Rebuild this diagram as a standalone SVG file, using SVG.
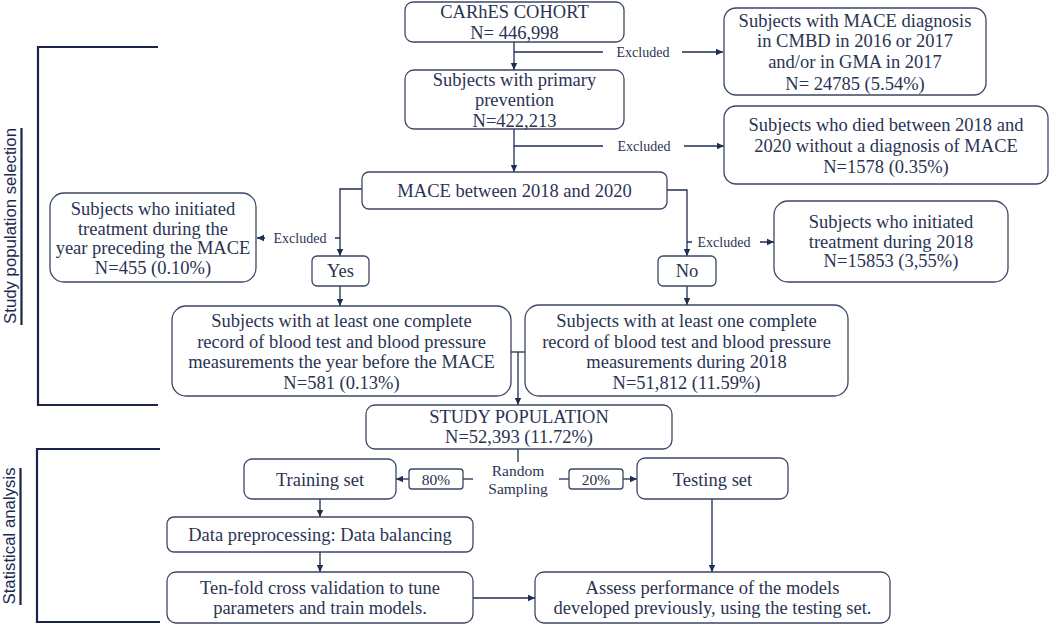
<svg xmlns="http://www.w3.org/2000/svg" width="1052" height="626" viewBox="0 0 1052 626">
<defs>
<marker id="ah" markerUnits="userSpaceOnUse" markerWidth="8" markerHeight="8" refX="7" refY="4" orient="auto">
<path d="M0,0.8 L7,4 L0,7.2 z" fill="#1f2d52"/>
</marker>
<style>
.box{fill:#fff;stroke:#3b4766;stroke-width:1.3}
.t{font-family:"Liberation Serif","Times New Roman",serif;font-size:18.5px;fill:#2a3352;text-anchor:middle}
.s{font-family:"Liberation Serif","Times New Roman",serif;font-size:14px;fill:#2a3352;text-anchor:middle}
.r{font-family:"Liberation Serif","Times New Roman",serif;font-size:15.5px;fill:#2a3352;text-anchor:middle}
.ln{fill:none;stroke:#1f2d52;stroke-width:1.3}
.br{fill:none;stroke:#1a2447;stroke-width:2.2}
.side{font-family:"Liberation Sans",Arial,sans-serif;font-size:16.8px;fill:#1e2a4d;text-anchor:middle}
.lbg{fill:#fff}
</style>
</defs>
<rect width="1052" height="626" fill="#fff"/>

<g id="bracket-selection">
<path class="br" d="M158,47 H38 V405 H158"/>
<line class="br" x1="21.5" y1="128" x2="21.5" y2="325" stroke-width="1.6"/>
<text class="side" transform="translate(16,226) rotate(-90)">Study population selection</text>
</g>
<g id="bracket-analysis">
<path class="br" d="M160,449 H37 V622 H160"/>
<line class="br" x1="20.5" y1="468" x2="20.5" y2="605" stroke-width="1.6"/>
<text class="side" transform="translate(15,536) rotate(-90)">Statistical analysis</text>
</g>

<g id="connectors">
<path class="ln" d="M514,42 V70" marker-end="url(#ah)"/>
<path class="ln" d="M514,52 H723" marker-end="url(#ah)"/>
<path class="ln" d="M514,129 V172" marker-end="url(#ah)"/>
<path class="ln" d="M514,146 H724" marker-end="url(#ah)"/>
<path class="ln" d="M362,189 H340 V256" marker-end="url(#ah)"/>
<path class="ln" d="M667,190 H687 V256" marker-end="url(#ah)"/>
<path class="ln" d="M340,238 H257" marker-end="url(#ah)"/>
<path class="ln" d="M687,242 H774" marker-end="url(#ah)"/>
<path class="ln" d="M340,286 V306" marker-end="url(#ah)"/>
<path class="ln" d="M687,286 V305" marker-end="url(#ah)"/>
<path class="ln" d="M511,352 H525"/>
<path class="ln" d="M518,352 V405" marker-end="url(#ah)"/>
<path class="ln" d="M518,449 V462"/>
<path class="ln" d="M473,479 H463"/>
<path class="ln" d="M409,479 H396" marker-end="url(#ah)"/>
<path class="ln" d="M559,479 H569"/>
<path class="ln" d="M623,479 H637" marker-end="url(#ah)"/>
<path class="ln" d="M320,499 V517" marker-end="url(#ah)"/>
<path class="ln" d="M320,552 V572" marker-end="url(#ah)"/>
<path class="ln" d="M712,499 V572" marker-end="url(#ah)"/>
<path class="ln" d="M473,598 H535" marker-end="url(#ah)"/>
<rect class="lbg" x="603" y="44" width="79" height="16"/>
<text class="s" x="643" y="57">Excluded</text>
<rect class="lbg" x="603" y="138" width="81" height="16"/>
<text class="s" x="644" y="151">Excluded</text>
<rect class="lbg" x="265" y="230" width="70" height="16"/>
<text class="s" x="300" y="243">Excluded</text>
<rect class="lbg" x="692" y="234" width="68" height="16"/>
<text class="s" x="724" y="247">Excluded</text>
<text class="r" x="518" y="476">Random</text>
<text class="r" x="518" y="494">Sampling</text>
<rect class="box" x="409" y="469" width="54" height="20" rx="3"/>
<text class="r" x="436" y="485">80%</text>
<rect class="box" x="569" y="469" width="54" height="20" rx="3"/>
<text class="r" x="596" y="485">20%</text>
</g>

<g id="n-cohort">
<rect class="box" x="405" y="2" width="219" height="40" rx="8"/>
<text class="t" x="514.5" y="18">CARhES COHORT</text>
<text class="t" x="514.5" y="39">N= 446,998</text>
</g>
<g id="n-mace-diag">
<rect class="box" x="724" y="8" width="262" height="87" rx="12"/>
<text class="t" x="855" y="27">Subjects with MACE diagnosis</text>
<text class="t" x="855" y="47">in CMBD in 2016 or 2017</text>
<text class="t" x="855" y="68">and/or in GMA in 2017</text>
<text class="t" x="855" y="90">N= 24785 (5.54%)</text>
</g>
<g id="n-primary">
<rect class="box" x="405" y="70" width="219" height="59" rx="9"/>
<text class="t" x="514.5" y="86">Subjects with primary</text>
<text class="t" x="514.5" y="106">prevention</text>
<text class="t" x="514.5" y="127">N=422,213</text>
</g>
<g id="n-died">
<rect class="box" x="724" y="106" width="324" height="78" rx="12"/>
<text class="t" x="886" y="131">Subjects who died between 2018 and</text>
<text class="t" x="886" y="152">2020 without a diagnosis of MACE</text>
<text class="t" x="886" y="173">N=1578 (0.35%)</text>
</g>
<g id="n-mace">
<rect class="box" x="362" y="172" width="305" height="37" rx="7"/>
<text class="t" x="514.5" y="197">MACE between 2018 and 2020</text>
</g>
<g id="n-init-prev">
<rect class="box" x="50" y="193" width="206" height="89" rx="14"/>
<text class="t" x="153" y="215">Subjects who initiated</text>
<text class="t" x="153" y="235">treatment during the</text>
<text class="t" x="153" y="254">year preceding the MACE</text>
<text class="t" x="153" y="274">N=455 (0.10%)</text>
</g>
<g id="n-init-2018">
<rect class="box" x="774" y="201" width="234" height="81" rx="14"/>
<text class="t" x="891" y="228">Subjects who initiated</text>
<text class="t" x="891" y="248">treatment during 2018</text>
<text class="t" x="891" y="267">N=15853 (3,55%)</text>
</g>
<g id="n-yes">
<rect class="box" x="312" y="256" width="57" height="30" rx="5"/>
<text class="t" x="340.5" y="277">Yes</text>
</g>
<g id="n-no">
<rect class="box" x="658" y="256" width="58" height="30" rx="5"/>
<text class="t" x="687" y="277">No</text>
</g>
<g id="n-record-mace">
<rect class="box" x="172" y="306" width="339" height="90" rx="14"/>
<text class="t" x="341.5" y="327">Subjects with at least one complete</text>
<text class="t" x="341.5" y="348">record of blood test and blood pressure</text>
<text class="t" x="341.5" y="368">measurements the year before the MACE</text>
<text class="t" x="341.5" y="389">N=581 (0.13%)</text>
</g>
<g id="n-record-2018">
<rect class="box" x="525" y="305" width="323" height="91" rx="14"/>
<text class="t" x="686.5" y="327">Subjects with at least one complete</text>
<text class="t" x="686.5" y="348">record of blood test and blood pressure</text>
<text class="t" x="686.5" y="368">measurements during 2018</text>
<text class="t" x="686.5" y="389">N=51,812 (11.59%)</text>
</g>
<g id="n-study">
<rect class="box" x="366" y="405" width="306" height="44" rx="9"/>
<text class="t" x="519" y="423">STUDY POPULATION</text>
<text class="t" x="519" y="443">N=52,393 (11.72%)</text>
</g>
<g id="n-training">
<rect class="box" x="244" y="459" width="152" height="40" rx="8"/>
<text class="t" x="320" y="486">Training set</text>
</g>
<g id="n-testing">
<rect class="box" x="637" y="458" width="151" height="41" rx="8"/>
<text class="t" x="712.5" y="486">Testing set</text>
</g>
<g id="n-preproc">
<rect class="box" x="167" y="517" width="306" height="35" rx="7"/>
<text class="t" x="320" y="541">Data preprocessing: Data balancing</text>
</g>
<g id="n-tenfold">
<rect class="box" x="167" y="572" width="306" height="51" rx="9"/>
<text class="t" x="320" y="594">Ten-fold cross validation to tune</text>
<text class="t" x="320" y="614">parameters and train models.</text>
</g>
<g id="n-assess">
<rect class="box" x="535" y="572" width="355" height="51" rx="9"/>
<text class="t" x="712.5" y="594">Assess performance of the models</text>
<text class="t" x="712.5" y="614">developed previously, using the testing set.</text>
</g>
</svg>
